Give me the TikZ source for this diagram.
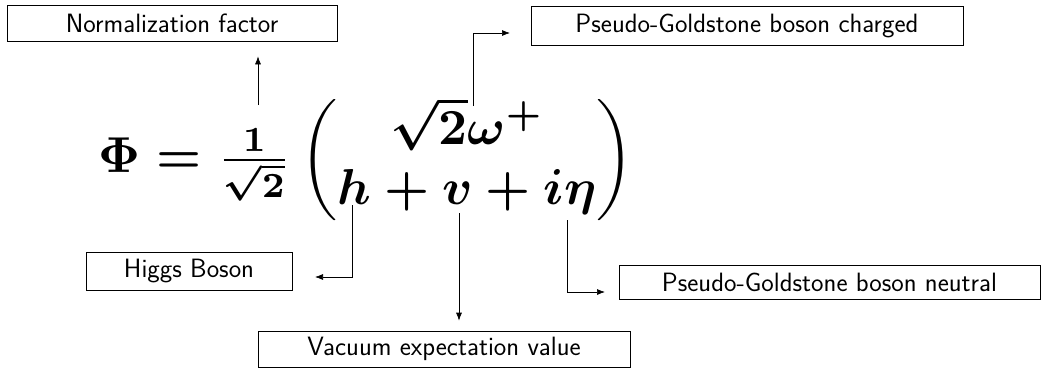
\documentclass[tikz,border=0pt]{standalone}
\usepackage{amsmath}
\usetikzlibrary{arrows.meta}
\newsavebox\eqbox
\begin{document}
\sbox\eqbox{\boldmath$\Phi = \tfrac{1}{\sqrt{2}}\begin{pmatrix}\sqrt{2}\omega^+\\ h+v+i\eta\end{pmatrix}$}%
\begin{tikzpicture}[x=1pt,y=-1pt,
  lbl/.style={draw, line width=0.7pt, font=\fontsize{26.5}{30}\selectfont\sffamily, inner sep=0pt},
  conn/.style={-{Latex[length=8pt,width=6pt]}, line width=0.7pt}]
\useasboundingbox (0,0) rectangle (1050,368);
% equation
\node[scale=5.05, inner sep=0pt] (eq) at (366,160) {\usebox\eqbox};
% labels
\node[lbl, minimum width=330pt, minimum height=36pt] (norm) at (172,23) {Normalization factor};
\node[lbl, minimum width=432pt, minimum height=39pt] (charged) at (747,25.5) {Pseudo-Goldstone boson charged};
\node[lbl, minimum width=206pt, minimum height=38pt] (higgs) at (189,271) {Higgs Boson};
\node[lbl, minimum width=421pt, minimum height=34pt] (neutral) at (829.5,282) {Pseudo-Goldstone boson neutral};
\node[lbl, minimum width=372pt, minimum height=36pt] (vev) at (444,349) {Vacuum expectation value};
% connector points
\coordinate (nA) at (258,105);
\coordinate (cA) at (473,106);
\coordinate (cB) at (510,33);
\coordinate (hA) at (352,205);
\coordinate (hB) at (315,277);
\coordinate (vA) at (459,213);
\coordinate (gA) at (567,220);
\coordinate (gB) at (605,292);
% connectors
\draw[conn, shorten >=15pt] (nA) -- (nA |- norm.south);
\draw[conn] (cA) |- (cB);
\draw[conn] (hA) |- (hB);
\draw[conn, shorten >=10pt] (vA) -- (vA |- vev.north);
\draw[conn] (gA) |- (gB);
\end{tikzpicture}
\end{document}
